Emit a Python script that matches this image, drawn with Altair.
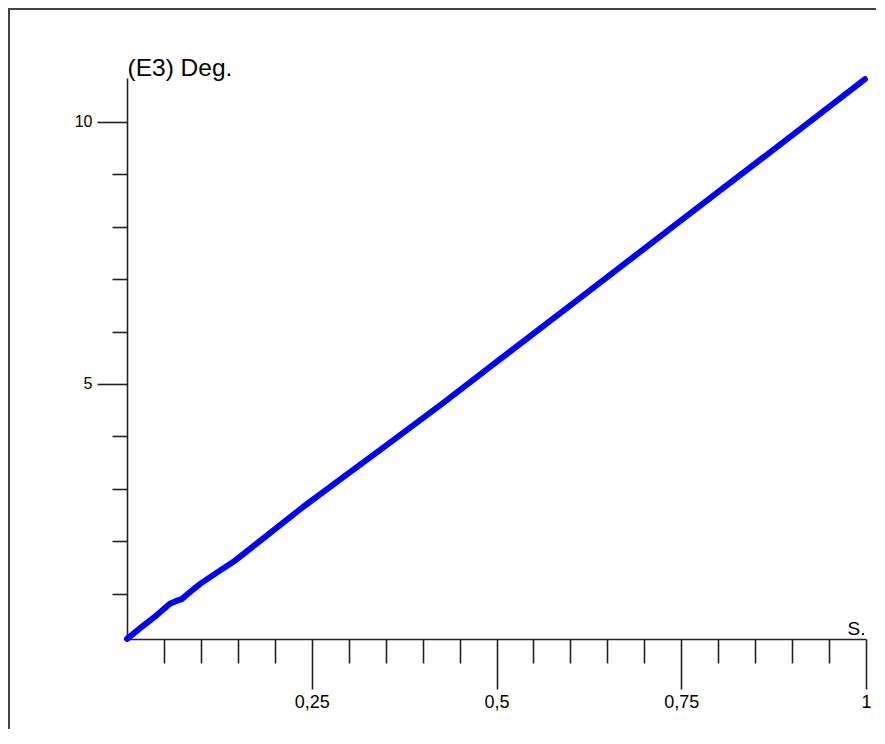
import altair as alt
import pandas as pd

# Data
time_s = [0.0, 0.02, 0.04, 0.058, 0.066, 0.074, 0.085, 0.099, 0.12, 0.144,
          0.19, 0.2386, 0.3, 0.35, 0.428, 0.5, 0.6, 0.7, 0.8, 0.9, 0.9986]
deg_e3 = [0.14, 0.37, 0.59, 0.81, 0.86, 0.90, 1.03, 1.19, 1.39, 1.61,
          2.12, 2.66, 3.30, 3.82, 4.64, 5.42, 6.50, 7.58, 8.66, 9.74, 10.81]

x_ticks = [0.05, 0.1, 0.15, 0.2, 0.25, 0.3, 0.35, 0.4, 0.45, 0.5,
           0.55, 0.6, 0.65, 0.7, 0.75, 0.8, 0.85, 0.9, 0.95, 1.0]
y_ticks = [1, 2, 3, 4, 5, 6, 7, 8, 9, 10]

df = pd.DataFrame({"s": time_s, "deg": deg_e3})

W, H = 739, 561
FONT = "Liberation Sans"
AX = "#222222"

x_major = "abs(datum.value*4 - round(datum.value*4)) < 1e-6"
y_major = "datum.value % 5 === 0"

line = alt.Chart(df).mark_line(color="#0000ff", strokeWidth=6,
                               strokeCap="round", strokeJoin="round").encode(
    x=alt.X("s:Q",
            scale=alt.Scale(domain=[0, 1], nice=False, zero=False),
            axis=alt.Axis(values=x_ticks, grid=False,
                          domainColor=AX, domainWidth=1.6,
                          tickColor=AX, tickWidth=1.6,
                          tickSize={"condition": {"test": x_major, "value": 50}, "value": 24},
                          labelExpr=f"{x_major} ? replace(toString(datum.value), '.', ',') : ''",
                          labelFont=FONT, labelFontSize=18, labelColor="#000000",
                          labelPadding=4, labelFlush=False,
                          title="S.", titleFont=FONT, titleFontSize=19,
                          titleFontWeight="normal", titleColor="#000000",
                          titleAlign="right", titleBaseline="alphabetic",
                          titleX=738, titleY=-5)),
    y=alt.Y("deg:Q",
            scale=alt.Scale(domain=[0.139, 10.833], nice=False, zero=False),
            axis=alt.Axis(values=y_ticks, grid=False,
                          domainColor=AX, domainWidth=1.6,
                          tickColor=AX, tickWidth=1.6,
                          tickSize={"condition": {"test": y_major, "value": 30}, "value": 15},
                          labelExpr=f"{y_major} ? datum.label : ''",
                          labelFont=FONT, labelFontSize=16, labelColor="#000000",
                          labelPadding=5, labelBaseline="middle",
                          title="(E3) Deg.", titleFont=FONT, titleFontSize=24.5,
                          titleFontWeight="normal", titleColor="#000000",
                          titleAngle=0, titleAlign="left", titleBaseline="alphabetic",
                          titleX=0, titleY=-3)),
)

one = alt.Data(values=[{"k": 1}])
frame_left = alt.Chart(one).mark_rule(color="#444444", strokeWidth=2).encode(
    x=alt.value(-118), y=alt.value(-70), y2=alt.value(H + 90))
frame_top = alt.Chart(one).mark_rule(color="#444444", strokeWidth=2).encode(
    y=alt.value(-69), x=alt.value(-119), x2=alt.value(W + 10))

chart = alt.layer(frame_left, frame_top, line).properties(
    width=W, height=H,
    autosize=alt.AutoSizeParams(type="none"),
    padding={"left": 119, "top": 70, "right": 10, "bottom": 90},
    background="white",
).configure_view(stroke=None)

chart.save("out.html", embed_options={"renderer": "svg", "actions": False})
